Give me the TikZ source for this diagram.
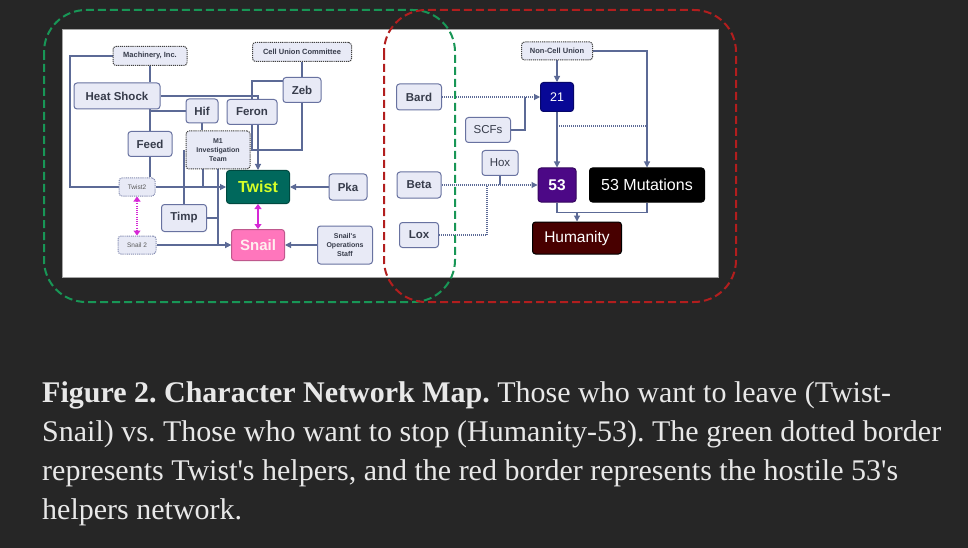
\documentclass[tikz,border=0pt]{standalone}
\usepackage{fontspec}
\setmainfont{Liberation Serif}[Ligatures=TeXOff]
\setsansfont{Liberation Sans}[Ligatures=TeXOff]
\usepackage{tikz}
\usetikzlibrary{arrows.meta,positioning,calc,backgrounds}
\definecolor{cnbg}{RGB}{38,38,38}
\definecolor{cnfill}{RGB}{232,234,246}
\definecolor{cnedge}{RGB}{104,114,160}
\definecolor{cntext}{RGB}{55,60,75}
\definecolor{cnline}{RGB}{92,106,150}
\definecolor{cnmagenta}{RGB}{214,40,214}
\definecolor{cngreen}{RGB}{24,150,86}
\definecolor{cnred}{RGB}{178,30,30}
\definecolor{cnteal}{RGB}{0,104,92}
\definecolor{cnpink}{RGB}{255,118,188}
\definecolor{cnblue}{RGB}{8,8,150}
\definecolor{cnpurple}{RGB}{76,8,134}
\definecolor{cnmaroon}{RGB}{72,0,0}
\definecolor{cnlime}{RGB}{214,255,40}
\definecolor{cncaption}{RGB}{232,232,232}
\tikzstyle{character} = [rectangle, rounded corners=3pt, draw=cnedge, fill=cnfill, line width=1pt, inner sep=0pt, align=center, text=cntext, font=\sffamily\bfseries\fontsize{11.5}{13}\selectfont]
\tikzstyle{plain} = [font=\sffamily\fontsize{11.5}{13}\selectfont]
\tikzstyle{faction} = [character, draw=black!75, dash pattern=on 1.2pt off 0.9pt, font=\sffamily\bfseries\fontsize{7.5}{9}\selectfont]
\tikzstyle{alias} = [character, draw=cnedge!80, dash pattern=on 1.2pt off 0.9pt, text=black!65, font=\sffamily\fontsize{6.5}{8}\selectfont]
\tikzstyle{link} = [draw=cnline, line width=1.1pt]
\tikzstyle{arrow} = [link, -{Triangle[length=6pt,width=6pt]}]
\tikzstyle{hint} = [link, dash pattern=on 1pt off 1pt]
\tikzstyle{hintarrow} = [hint, -{Triangle[length=6pt,width=6pt]}]
\tikzstyle{bond} = [draw=cnmagenta, line width=1.1pt, {Triangle[length=5pt,width=7pt]}-{Triangle[length=5pt,width=7pt]}]
\tikzstyle{camp} = [line width=2pt, dash pattern=on 8pt off 4pt, rounded corners=42pt]
\tikzset{dims/.style 2 args={minimum width=#1pt, minimum height=#2pt}}

\begin{document}
\frenchspacing
\begin{tikzpicture}[x=1pt, y=-1pt]
    \useasboundingbox (0,0) rectangle (968,548);

    % Twist's side
    \node[faction, dims={74}{19}] (machinery) at (150,56) {Machinery, Inc.};
    \node[faction, dims={99}{19}] (cellunion) at (302,52) {Cell Union Committee};
    \node[character, dims={86}{26}] (heatshock) at (117,96) {Heat Shock};
    \node[character, dims={38}{25}] (zeb) at (302,90) {Zeb};
    \node[character, dims={32}{24}] (hif) at (202,111) {Hif};
    \node[character, dims={50}{25}] (feron) at (252,112) {Feron};
    \node[character, dims={44}{25}] (feed) at (150,144) {Feed};
    \node[faction, dims={64}{38}, font=\sffamily\bfseries\fontsize{7}{9}\selectfont] (mone) at (218,150) {M1\\Investigation\\Team};
    \node[alias, dims={36}{18}] (twisttwo) at (137,187) {Twist2};
    \node[character, dims={63}{33}, fill=cnteal, draw=cnteal!70!black, text=cnlime, font=\sffamily\bfseries\fontsize{16}{18}\selectfont] (twist) at (258,187) {Twist};
    \node[character, dims={38}{26}] (pka) at (348,187) {Pka};
    \node[character, dims={45}{27}] (timp) at (184,218) {Timp};
    \node[alias, dims={38}{18}] (snailtwo) at (137,245) {Snail 2};
    \node[character, dims={53}{31}, fill=cnpink, draw=cnpink!75!black, text=pink!25!white, font=\sffamily\bfseries\fontsize{15}{17}\selectfont] (snail) at (258,245) {Snail};
    \node[character, dims={55}{38}, font=\sffamily\bfseries\fontsize{7}{9}\selectfont] (opsstaff) at (345,245) {Snail's\\Operations\\Staff};

    % 53's side
    \node[character, dims={45}{26}] (bard) at (419,97) {Bard};
    \node[character, dims={44}{26}] (beta) at (419,185) {Beta};
    \node[character, dims={39}{25}] (lox) at (419,235) {Lox};
    \node[faction, dims={71}{18}] (noncell) at (557,51) {Non-Cell Union};
    \node[character, dims={33}{29}, fill=cnblue, draw=cnblue!70!black, text=white, font=\sffamily\fontsize{12.5}{14}\selectfont] (twentyone) at (557,97) {21};
    \node[character, plain, dims={45}{25}] (scfs) at (488,130) {SCFs};
    \node[character, plain, dims={36}{25}] (hox) at (500,163) {Hox};
    \node[character, dims={38}{34}, fill=cnpurple, draw=cnpurple!70!black, text=white, font=\sffamily\bfseries\fontsize{15.5}{17}\selectfont] (fiftythree) at (557,185) {53};
    \node[character, dims={115}{34}, fill=black, draw=black, text=white, font=\sffamily\fontsize{16}{18}\selectfont] (mutations) at (647,185) {53 Mutations};
    \node[character, dims={89}{32}, fill=cnmaroon, draw=black, text=white, font=\sffamily\fontsize{15.5}{17}\selectfont] (humanity) at (577,238) {Humanity};

    \begin{pgfonlayer}{background}
        % Page and white panel
        \fill[cnbg] (0,0) rectangle (968,548);
        \draw[gray!70, line width=.8pt, fill=white] (62,29) rectangle (718,277);

        % Connections, Twist's side
        \coordinate (loop) at (70,187);
        \draw[link] (machinery.west) -| (loop) -- (twisttwo.west);
        \draw[link] (machinery.south) -- (machinery.south |- heatshock.north);
        \draw[link] (heatshock.south -| feed.north) -- (feed.north);
        \draw[link] (feed.south) -- (feed.south |- twisttwo.north);
        \draw[link] (hif.west) -- (hif.west -| feed.north);
        \draw[link] (hif.south) -- (hif.south |- mone.north);
        \draw[arrow] (heatshock.east) -| (twist.north);
        \draw[link] (cellunion.south) -- (zeb.north);
        \draw[link] ([yshift=9pt]zeb.west) -| (feron.north);
        \draw[link] (zeb.south) |- (feron.south |- mone.east) -- (feron.south);
        \draw[link] ([xshift=-15pt]mone.south) -- ([xshift=-15pt]mone.south |- twist.west);
        \draw[link] (mone.south) -- (mone.south |- timp.east);
        \draw[link] (timp.north) -- (timp.north |- mone.west);
        \draw[arrow] (timp.east) -| (mone.south |- snail.west) -- (snail.west);
        \draw[arrow] (twisttwo.east) -- (twist.west);
        \draw[arrow] (snailtwo.east) -- (snail.west);
        \draw[arrow] (pka.west) -- (twist.east);
        \draw[arrow] (opsstaff.west) -- (snail.east);
        \draw[bond, dash pattern=on 1pt off 1.2pt] (twisttwo.south) -- (snailtwo.north);
        \draw[bond] (twist.south) -- (snail.north);

        % Connections, 53's side
        \draw[arrow] (noncell.south) -- (twentyone.north);
        \draw[arrow] (noncell.east) -| (mutations.north);
        \draw[hintarrow] (bard.east) -- (twentyone.west);
        \draw[link] (scfs.east) -| ([xshift=-15pt]twentyone.west);
        \draw[arrow] (twentyone.south) -- (fiftythree.north);
        \draw[hint] ([yshift=-14pt]twentyone.south) -- ([yshift=-14pt]twentyone.south -| mutations.north);
        \draw[hintarrow] (beta.east) -- (fiftythree.west);
        \draw[link] (hox.south) -- (hox.south |- fiftythree.west);
        \draw[hint] (lox.east) -| ([xshift=-13pt]hox.south |- fiftythree.west);
        \draw[link] (fiftythree.south) -- ++(0,10) -| (mutations.south);
        \draw[arrow] ([yshift=-10pt]fiftythree.south -| humanity.north) -- (humanity.north);
    \end{pgfonlayer}

    % Helper borders
    \draw[camp, cngreen] (44,10) rectangle (455,302);
    \draw[camp, cnred] (384,10) rectangle (736,302);

    % Caption
    \node[anchor=north west, inner sep=0pt, align=left, text=cncaption, font=\fontsize{30}{39}\selectfont] (caption) at (42,381) {\textbf{Figure 2. Character Network Map.} Those who want to leave (Twist-\\Snail) vs. Those who want to stop (Humanity-53). The green dotted border\\represents Twist's helpers, and the red border represents the hostile 53's\\helpers network.};
\end{tikzpicture}
\end{document}
